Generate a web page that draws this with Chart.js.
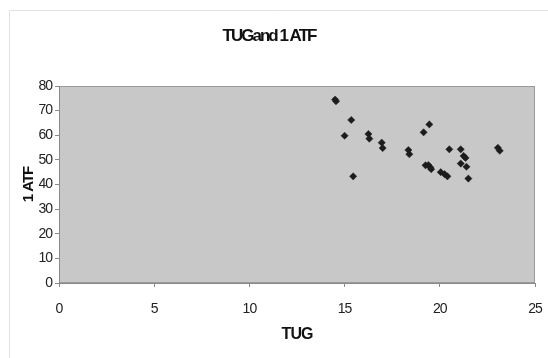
<!DOCTYPE html>
<html>
<head>
<meta charset="utf-8">
<script src="https://cdn.jsdelivr.net/npm/chart.js@4"></script>
<style>
  html, body { margin: 0; padding: 0; background: #ffffff; }
  #wrap { width: 548px; height: 358px; position: relative; }
</style>
</head>
<body>
<div id="wrap"><canvas id="c" width="548" height="358"></canvas></div>
<script>
// TUG times (x) and 1 ATF scores (y)
const tugValues = [14.5, 14.55, 15.0, 15.35, 15.45, 16.25, 16.3, 16.95, 17.0, 18.35, 18.4,
  19.15, 19.45, 19.25, 19.4, 19.5, 19.55, 20.05, 20.25, 20.4, 20.5, 21.1, 21.25, 21.35,
  21.1, 21.4, 21.5, 23.05, 23.15];
const atfValues = [74.5, 73.8, 59.8, 66.2, 43.3, 60.5, 58.6, 57.0, 54.8, 54.0, 52.3,
  61.2, 64.4, 47.8, 47.9, 47.0, 46.2, 45.0, 44.2, 43.3, 54.3, 54.3, 51.6, 50.8,
  48.5, 47.2, 42.4, 54.9, 53.7];

const chartTitle = 'TUGand 1 ATF';
const xTitle = 'TUG';
const yTitle = '1 ATF';

const points = tugValues.map((x, i) => ({ x: x, y: atfValues[i] }));

const FONT = "'Liberation Sans', Arial, sans-serif";

// Page frame, grey plot area and tight lettering
const framePlugin = {
  id: 'frame',
  beforeDraw(chart) {
    const ctx = chart.ctx;
    ctx.save();
    ctx.fillStyle = '#ffffff';
    ctx.fillRect(0, 0, chart.width, chart.height);
    ctx.strokeStyle = '#e2e2e2';
    ctx.lineWidth = 1;
    ctx.beginPath();
    ctx.moveTo(9.5, chart.height);
    ctx.lineTo(9.5, 10.5);
    ctx.lineTo(chart.width, 10.5);
    ctx.stroke();
    const a = chart.chartArea;
    ctx.fillStyle = '#c8c8c8';
    ctx.fillRect(a.left, a.top, a.right - a.left, a.bottom - a.top);
    ctx.strokeStyle = '#9a9a9a';
    ctx.strokeRect(a.left + 0.5, a.top + 0.5, a.right - a.left - 1, a.bottom - a.top - 1);
    ctx.restore();
    ctx.letterSpacing = '-1px';
  }
};

const chart = new Chart(document.getElementById('c'), {
  type: 'scatter',
  data: {
    datasets: [{
      label: yTitle,
      data: points,
      pointStyle: 'rectRot',
      pointRadius: 3.6,
      pointHoverRadius: 3.6,
      backgroundColor: '#1c1c1c',
      borderColor: '#1c1c1c',
      borderWidth: 0.5
    }]
  },
  options: {
    responsive: false,
    animation: false,
    events: [],
    layout: { padding: { left: 3, right: 13, top: 26, bottom: 14 } },
    plugins: {
      legend: { display: false },
      tooltip: { enabled: false },
      title: {
        display: true,
        text: chartTitle,
        color: '#111111',
        font: { family: FONT, size: 17, weight: 'bold' },
        padding: { top: 0, bottom: 39.6 }
      }
    },
    scales: {
      x: {
        type: 'linear',
        min: 0, max: 25,
        ticks: { stepSize: 5, color: '#222222', font: { family: FONT, size: 14 }, padding: 14 },
        grid: { drawOnChartArea: false, color: '#8a8a8a', tickLength: 4 },
        border: { color: '#8a8a8a' },
        title: {
          display: true, text: xTitle, color: '#111111',
          font: { family: FONT, size: 16, weight: 'bold' },
          padding: { top: 6, bottom: 0 }
        },
        afterFit(scale) {
          scale.height = 358 - 283 - 14;
          scale.paddingRight = 13;
        }
      },
      y: {
        type: 'linear',
        min: 0, max: 80,
        ticks: { stepSize: 10, color: '#222222', font: { family: FONT, size: 14 }, padding: 3 },
        grid: { drawOnChartArea: false, color: '#8a8a8a', tickLength: 4 },
        border: { color: '#8a8a8a' },
        title: {
          display: true, text: yTitle, color: '#111111',
          font: { family: FONT, size: 15, weight: 'bold' },
          padding: { top: 17, bottom: 0 }
        },
        afterFit(scale) { scale.width = 59 - 3; }
      }
    }
  },
  plugins: [framePlugin]
});

// Tighter letter spacing for the main heading
if (chart.titleBlock) {
  const block = chart.titleBlock;
  const drawTitle = block.draw.bind(block);
  block.draw = function () {
    chart.ctx.letterSpacing = '-2px';
    drawTitle();
    chart.ctx.letterSpacing = '-1px';
  };
  chart.draw();
}
</script>
</body>
</html>
